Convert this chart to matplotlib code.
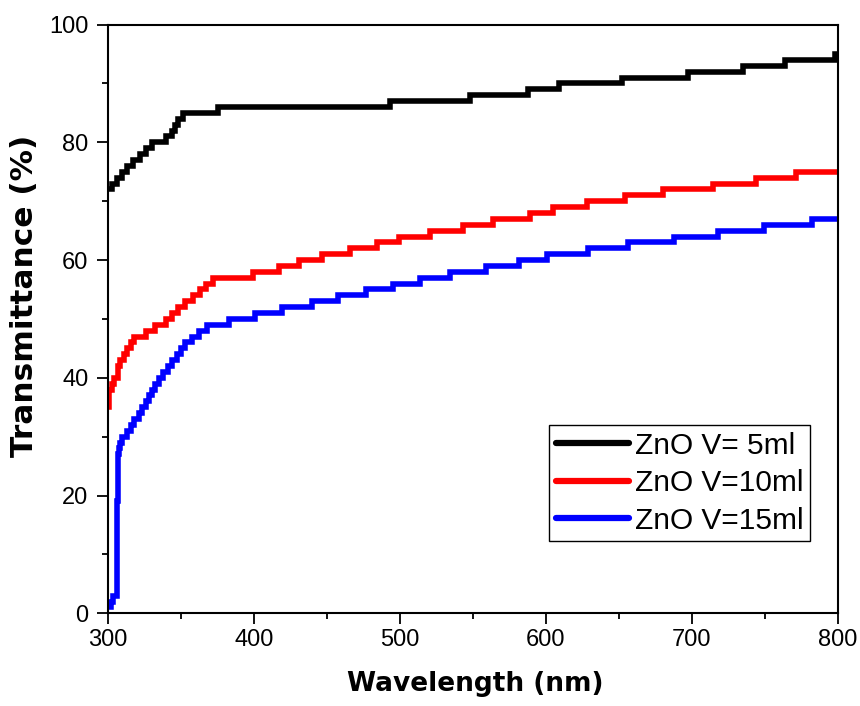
import matplotlib
matplotlib.use("Agg")
import matplotlib.pyplot as plt
from matplotlib.ticker import MultipleLocator

# step breakpoints (wavelength nm, transmittance %)
wl_5 = [300, 302.5, 306, 309.4, 312.8, 317, 322, 326, 330, 340, 343.5, 346,
        348, 351.5, 375, 493, 548, 588, 609, 652, 697, 735, 764, 798, 800]
t_5 = [72, 73, 74, 75, 76, 77, 78, 79, 80, 81, 82, 83,
       84, 85, 86, 87, 88, 89, 90, 91, 92, 93, 94, 95, 95]

wl_10 = [300, 301, 303, 304, 307, 308, 311, 313, 316, 317.5, 326, 332, 340,
         344, 348, 353, 358, 363, 367, 372, 399.5, 417, 431, 446.5, 465.5,
         484, 499.5, 520.5, 543, 564, 589, 605, 628, 654, 680, 714.5, 744,
         771.5, 800]
t_10 = [35, 38, 39, 40, 42, 43, 44, 45, 46, 47, 48, 49, 50,
        51, 52, 53, 54, 55, 56, 57, 58, 59, 60, 61, 62,
        63, 64, 65, 66, 67, 68, 69, 70, 71, 72, 73, 74,
        75, 75]

wl_15 = [300, 302, 303.5, 306, 306.8, 307.5, 308.5, 309.5, 313, 316, 318,
         321, 323.5, 326, 328, 330, 332, 335, 338, 341, 343.5, 347, 350, 353,
         357.5, 362, 368, 383, 400.5, 419.5, 439.5, 457.5, 476.5, 495, 513.5,
         534, 559, 581.5, 601, 628.5, 656.5, 688, 718, 749, 782, 800]
t_15 = [1, 2, 3, 19, 27, 28, 29, 30, 31, 32, 33,
        34, 35, 36, 37, 38, 39, 40, 41, 42, 43, 44, 45, 46,
        47, 48, 49, 50, 51, 52, 53, 54, 55, 56, 57,
        58, 59, 60, 61, 62, 63, 64, 65, 66, 67, 67]

labels = ["ZnO V= 5ml", "ZnO V=10ml", "ZnO V=15ml"]
colors = ["black", "#ff0000", "#0000ff"]

plt.rcParams["font.family"] = ["Liberation Sans", "DejaVu Sans"]

fig = plt.figure(figsize=(8.6, 7.06), dpi=100)
ax = fig.add_axes([0.1256, 0.1313, 0.8488, 0.8339])

for x, y, lab, c in zip([wl_5, wl_10, wl_15], [t_5, t_10, t_15], labels, colors):
    ax.plot(x, y, drawstyle="steps-post", color=c, lw=4,
            solid_capstyle="butt", solid_joinstyle="miter", label=lab)

ax.set_xlim(300, 800)
ax.set_ylim(0, 100)
ax.xaxis.set_major_locator(MultipleLocator(100))
ax.xaxis.set_minor_locator(MultipleLocator(50))
ax.yaxis.set_major_locator(MultipleLocator(20))
ax.yaxis.set_minor_locator(MultipleLocator(10))

ax.tick_params(which="both", direction="out", width=1.3, labelsize=17,
               top=False, right=False)
ax.tick_params(which="major", length=8)
ax.tick_params(which="minor", length=4)
ax.tick_params(axis="x", which="major", pad=3)
ax.tick_params(axis="y", which="major", pad=6)
for s in ax.spines.values():
    s.set_linewidth(1.5)

ax.set_xlabel("Wavelength (nm)", fontsize=19, fontweight="bold",
              family="DejaVu Sans")
ax.set_ylabel("Transmittance (%)", fontsize=22.5, fontweight="bold",
              family="DejaVu Sans")
ax.xaxis.set_label_coords(0.503, -0.098)
ax.yaxis.set_label_coords(-0.095, 0.54)

leg = ax.legend(loc="lower right", bbox_to_anchor=(0.9616, 0.1223),
                fontsize=21.5, frameon=True, fancybox=False, framealpha=1,
                edgecolor="black", handlelength=2.45, handletextpad=0.2,
                labelspacing=0.32, borderpad=0.22, borderaxespad=0)
leg.get_frame().set_linewidth(1)
for h in leg.get_lines():
    h.set_solid_capstyle("round")
    h.set_linewidth(4.5)

fig.savefig("out.png", dpi=100)
